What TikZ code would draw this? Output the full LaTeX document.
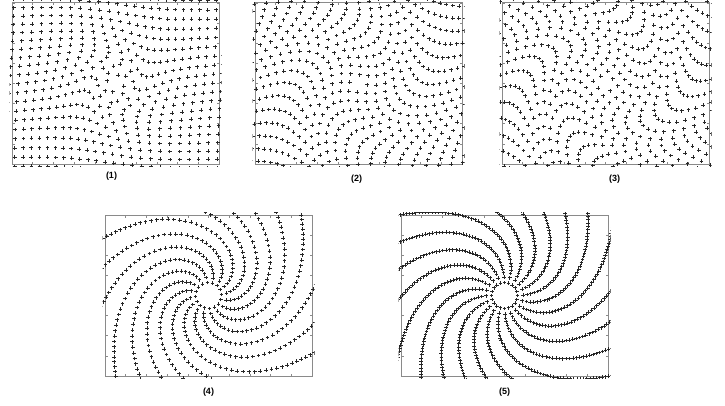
\documentclass[tikz,border=0pt]{standalone}
\usepackage{fontspec}
\setsansfont{Liberation Sans}
\usetikzlibrary{positioning}
\definecolor{swirlInk}{HTML}{262626}
\definecolor{frameGray}{HTML}{8A8A8A}
\tikzset{
  every picture/.style={font=\sffamily\bfseries\fontsize{9}{10}\selectfont},
  panel frame/.style={draw=frameGray, line width=1pt, minimum width=207pt,
    minimum height=161pt, inner sep=0pt, outer sep=0pt},
  panel label/.style={inner sep=0pt, text=black},
  swirl mark/.style={draw=swirlInk, line width=0.8pt},
  frame tick/.style={draw=frameGray, line width=0.6pt}
}
\newcommand{\swirlcross}[2]{\draw[swirl mark] (#1:#2) +(-1.9,0) -- +(1.9,0) +(0,-1.9) -- +(0,1.9);}
\newcommand{\frameticks}{%
  \foreach \tx in {-103.5,-82.8,...,104}{
    \draw[frame tick] (\tx,-80.5) -- ++(0,2.5) (\tx,80.5) -- ++(0,-2.5);}
  \foreach \ty in {-80.5,-60.375,...,81}{
    \draw[frame tick] (-103.5,\ty) -- ++(2.5,0) (103.5,\ty) -- ++(-2.5,0);}}
% turn of a point at radius #1 by a vortex of strength #2 and core #3
\newcommand{\vortexturn}[3]{%
  \pgfmathsetmacro\vu{(#1/#3)*(#1/#3)}
  \pgfmathsetmacro\vt{#2*(1-exp(-min(\vu,9)))/\vu}}
% square grid carried round the vortex: #1 strength (deg), #2 core radius
\newcommand{\twistgrid}[2]{%
  \clip (-106,-83) rectangle (106,83);
  \foreach \gi in {-15,...,15}{
    \foreach \gj in {-15,...,15}{
      \pgfmathsetmacro\gx{8.8*\gi}
      \pgfmathsetmacro\gy{8.8*\gj}
      \pgfmathsetmacro\gr{veclen(\gx,\gy)}
      \ifdim\gr pt>0.5pt
        \ifdim\gr pt<135pt
          \vortexturn{\gr}{#1}{#2}
          \pgfmathsetmacro\ga{atan2(\gy,\gx)-\vt}
          \swirlcross{\ga}{\gr}
        \fi
      \fi}}}
% rays of points carried round the vortex: #1 rays, #2 points per ray,
% #3 spacing power, #4 strength (deg), #5 core radius
\newcommand{\twistarms}[5]{%
  \clip (-106,-83) rectangle (106,83);
  \foreach \ak in {1,...,#1}{
    \foreach \ai in {0,...,#2}{
      \pgfmathsetmacro\ar{13+137*(\ai/#2)^#3}
      \vortexturn{\ar}{#4}{#5}
      \pgfmathsetmacro\aa{360*\ak/#1-\vt}
      \swirlcross{\aa}{\ar}}}}

\begin{document}
\begin{tikzpicture}[x=1pt,y=1pt]
  \useasboundingbox (0,0) rectangle (725,405);
  \node[panel frame] (p1) at (115.5,321.5) {};
  \node[panel frame] (p2) at (358.5,321.5) {};
  \node[panel frame] (p3) at (605.5,321.5) {};
  \node[panel frame] (p4) at (208.5,109.5) {};
  \node[panel frame] (p5) at (504.5,109.5) {};
  \node[panel label, below=8pt of p1, xshift=-4pt] (l1) {(1)};
  \node[panel label, below=11pt of p2, xshift=-2pt] (l2) {(2)};
  \node[panel label, below=11pt of p3, xshift=9pt] (l3) {(3)};
  \node[panel label, below=12pt of p4] (l4) {(4)};
  \node[panel label, below=12pt of p5] (l5) {(5)};

  \begin{scope}[shift={(p1.center)}]
    \frameticks
    \twistgrid{120}{20}
  \end{scope}
  \begin{scope}[shift={(p2.center)}]
    \frameticks
    \twistgrid{100}{55}
  \end{scope}
  \begin{scope}[shift={(p3.center)}]
    \frameticks
    \twistgrid{150}{60}
  \end{scope}
  \begin{scope}[shift={(p4.center)}]
    \frameticks
    \twistarms{16}{48}{0.85}{180}{65}
  \end{scope}
  \begin{scope}[shift={(p5.center)}]
    \frameticks
    \twistarms{20}{55}{0.8}{110}{80}
  \end{scope}
\end{tikzpicture}
\end{document}
